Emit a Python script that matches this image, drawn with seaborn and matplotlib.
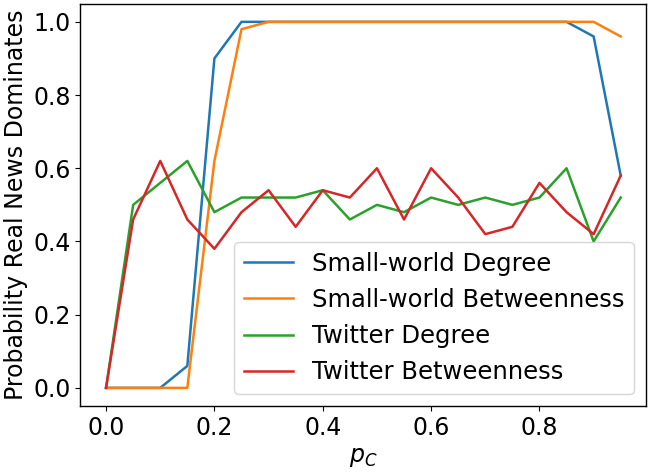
import numpy as np
import pandas as pd
import matplotlib
matplotlib.use("Agg")
import matplotlib.pyplot as plt
import seaborn as sns

# p_C values
p_c = [0.0, 0.05, 0.1, 0.15, 0.2, 0.25, 0.3, 0.35, 0.4, 0.45,
       0.5, 0.55, 0.6, 0.65, 0.7, 0.75, 0.8, 0.85, 0.9, 0.95]

sw_degree = [0.0, 0.0, 0.0, 0.06, 0.90, 1.0, 1.0, 1.0, 1.0, 1.0,
             1.0, 1.0, 1.0, 1.0, 1.0, 1.0, 1.0, 1.0, 0.96, 0.58]
sw_betweenness = [0.0, 0.0, 0.0, 0.0, 0.62, 0.98, 1.0, 1.0, 1.0, 1.0,
                  1.0, 1.0, 1.0, 1.0, 1.0, 1.0, 1.0, 1.0, 1.0, 0.96]
tw_degree = [0.0, 0.50, 0.56, 0.62, 0.48, 0.52, 0.52, 0.52, 0.54, 0.46,
             0.50, 0.48, 0.52, 0.50, 0.52, 0.50, 0.52, 0.60, 0.40, 0.52]
tw_betweenness = [0.0, 0.46, 0.62, 0.46, 0.38, 0.48, 0.54, 0.44, 0.54, 0.52,
                  0.60, 0.46, 0.60, 0.52, 0.42, 0.44, 0.56, 0.48, 0.42, 0.58]

series_names = ["Small-world Degree", "Small-world Betweenness",
                "Twitter Degree", "Twitter Betweenness"]
series_values = [sw_degree, sw_betweenness, tw_degree, tw_betweenness]

rows = []
for name, vals in zip(series_names, series_values):
    for x, y in zip(p_c, vals):
        rows.append({"p_C": x, "prob": y, "Series": name})
df = pd.DataFrame(rows)

plt.rcParams["font.size"] = 17
plt.rcParams["axes.linewidth"] = 1.0
fig, ax = plt.subplots(figsize=(6.5, 4.73), dpi=100)
sns.lineplot(data=df, x="p_C", y="prob", hue="Series", hue_order=series_names,
             palette="tab10", linewidth=1.8, ax=ax)

ax.set_xlabel("$p_C$")
ax.set_ylabel("Probability Real News Dominates")
ax.set_xticks([0.0, 0.2, 0.4, 0.6, 0.8])
ax.legend(loc="lower right", fontsize=17.5)
plt.tight_layout(pad=0.15)
plt.savefig("out.png")
